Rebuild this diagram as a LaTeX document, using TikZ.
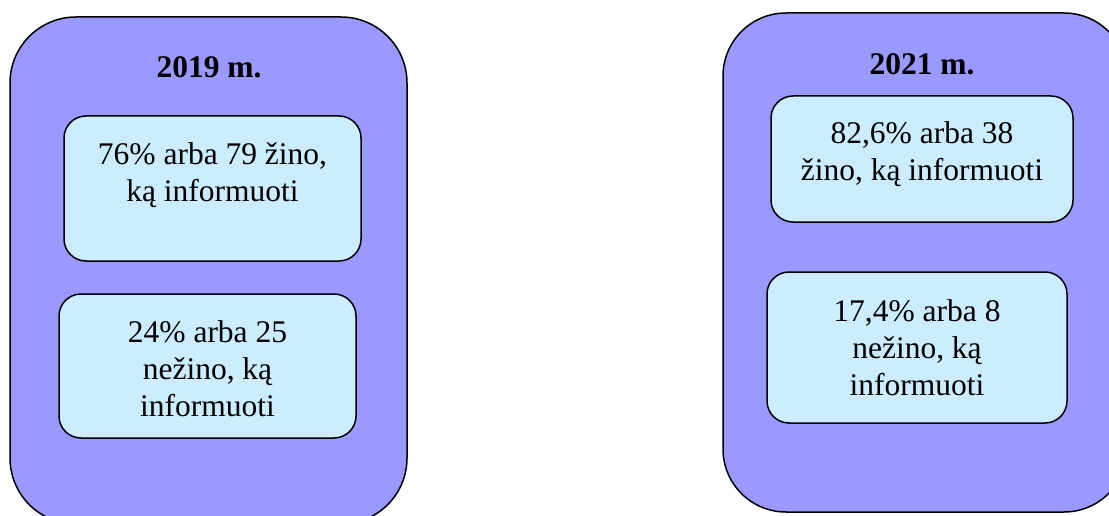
\documentclass[tikz,border=0pt]{standalone}
\usepackage{fontspec}
\setmainfont{Liberation Serif}
\begin{document}
\begin{tikzpicture}[x=1pt,y=-1pt]
% Define colors
\definecolor{coloryear}{HTML}{9999FF}
\definecolor{colorinfo}{HTML}{CCECFF}
\tikzset{
  yearbox/.style={draw=black, line width=1.5pt, fill=coloryear, rounded corners=66pt, inner sep=0pt},
  infobox/.style={draw=black, line width=1.5pt, fill=colorinfo, rounded corners=22pt, inner sep=0pt},
  infotext/.style={font=\fontsize{31.5}{37}\selectfont, align=center, anchor=north, inner sep=0pt},
  yeartext/.style={font=\fontsize{31.5}{37}\selectfont\bfseries, inner sep=0pt}
}
\useasboundingbox (0,0) rectangle (1109,516);
\clip (0,0) rectangle (1109,516);
  %%%%%%%%%%%%%%%%%% 2019
  \begin{scope}[local bounding box=drawA]
  \node[yearbox, minimum width=397pt, minimum height=507pt] (Y1) at (208.5,270.5) {};
  \node[yeartext] (T1) at (209,67) {2019 m.};
  \node[infobox, minimum width=297pt, minimum height=145pt] (A) at (212.5,188.5) {};
  \node[infotext] (At) at (212.5,142) {76\% arba 79 žino,\\ką informuoti};
  \node[infobox, minimum width=297pt, minimum height=144pt] (B) at (207.5,366) {};
  \node[infotext] (Bt) at (207.5,320) {24\% arba 25\\nežino, ką\\informuoti};
  \end{scope}
  %%%%%%%%%%%%%%%%%% 2021
  \begin{scope}[local bounding box=drawB]
  \node[yearbox, minimum width=404pt, minimum height=499pt, rounded corners=63pt] (Y2) at (925,262.5) {};
  \node[yeartext] (T2) at (922,64) {2021 m.};
  \node[infobox, minimum width=302pt, minimum height=126pt] (C) at (922,159) {};
  \node[infotext] (Ct) at (922,121) {82,6\% arba 38\\žino, ką informuoti};
  \node[infobox, minimum width=300pt, minimum height=151pt] (D) at (917,347.5) {};
  \node[infotext] (Dt) at (917,299) {17,4\% arba 8\\nežino, ką\\informuoti};
  \end{scope}
\end{tikzpicture}
\end{document}
